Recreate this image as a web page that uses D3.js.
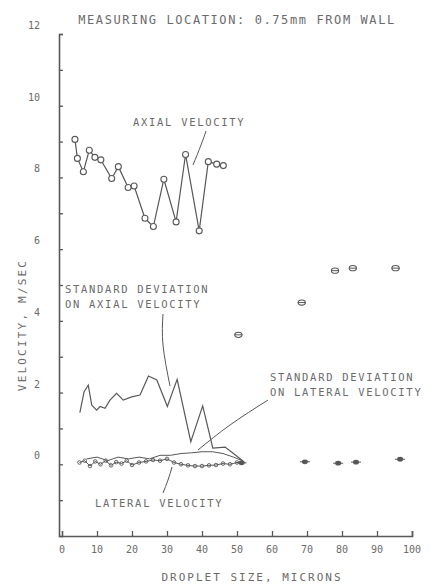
<!DOCTYPE html>
<html>
<head>
<meta charset="utf-8">
<script src="https://cdn.jsdelivr.net/npm/d3@7"></script>
<style>
  html, body { margin: 0; padding: 0; background: #fff; }
  svg { display: block; }
  text { font-family: "DejaVu Sans Mono", "Liberation Mono", monospace; fill: #6b6b6b; }
</style>
</head>
<body>
<svg id="chart" width="440" height="585"></svg>
<script>
// Droplet size (microns) and velocity (m/s) readings
const axialSize = [3.7, 4.4, 6.1, 7.8, 9.4, 11.1, 14.2, 16.1, 18.9, 20.6, 23.7, 26.1, 29.1, 32.6, 35.3, 39.2, 41.8, 44.2, 46.1];
const axialVel  = [9.06, 8.53, 8.16, 8.76, 8.56, 8.49, 7.97, 8.30, 7.72, 7.76, 6.86, 6.63, 7.95, 6.76, 8.64, 6.51, 8.44, 8.37, 8.33];

const sdAxialSize = [5.1, 6.3, 7.5, 8.5, 9.9, 10.9, 12.3, 13.7, 15.6, 17.5, 19.9, 22.3, 24.7, 27.1, 30.1, 32.9, 36.8, 40.2, 43.1, 46.6, 48.9, 51.7];
const sdAxialVel  = [1.44, 2.02, 2.21, 1.65, 1.51, 1.61, 1.56, 1.79, 1.98, 1.79, 1.88, 1.93, 2.46, 2.35, 1.61, 2.37, 0.63, 1.63, 0.45, 0.48, 0.31, 0.09];

const latSize = [5.0, 6.5, 8.0, 9.5, 11.0, 12.5, 14.0, 15.5, 17.0, 18.5, 20.0, 22.0, 24.0, 26.0, 28.0, 30.0, 32.0, 34.0, 36.0, 38.0, 40.0, 42.0, 44.0, 46.0, 48.0, 50.0, 51.5];
const latVel  = [0.05, 0.10, -0.05, 0.08, 0.00, 0.10, -0.03, 0.06, 0.02, 0.10, -0.02, 0.05, 0.08, 0.12, 0.10, 0.15, 0.05, 0.00, -0.03, -0.05, -0.05, -0.03, -0.02, 0.02, 0.00, 0.05, 0.05];

const sdLatSize = [7, 10, 13, 16, 19, 22, 25, 28, 31, 34, 37, 40, 43, 46, 49, 51.5];
const sdLatVel  = [0.15, 0.20, 0.10, 0.20, 0.15, 0.20, 0.15, 0.25, 0.25, 0.30, 0.32, 0.35, 0.35, 0.30, 0.20, 0.10];

// Isolated readings for the larger droplets
const bigSdSize = [50.4, 68.5, 78.0, 83.1, 95.3];
const bigSdVel  = [3.61, 4.51, 5.40, 5.47, 5.47];
const bigLatSize = [51.3, 69.4, 78.9, 84.0, 96.6];
const bigLatVel  = [0.04, 0.07, 0.03, 0.06, 0.14];

const xTicks = [0, 10, 20, 30, 40, 50, 60, 70, 80, 90, 100];
const yTickLabels = [0, 2, 4, 6, 8, 10, 12];

const ink = "#585858";
const svg = d3.select("#chart");

const x = d3.scaleLinear().domain([0, 100]).range([62, 412]);
const y = d3.scaleLinear().domain([-2, 12]).range([536, 34]);

// Axes: ticks point inward, labels drawn separately
const xAxis = d3.axisTop(x).tickValues(xTicks.slice(1)).tickSize(5).tickFormat("");
const gx = svg.append("g").attr("transform", `translate(0,${y(-2)})`).call(xAxis);
const yAxis = d3.axisRight(y).ticks(14).tickSize(4).tickFormat("");
const gy = svg.append("g").attr("transform", `translate(${x(0) - 3},0)`).call(yAxis);
[gx, gy].forEach(g => {
  g.select(".domain").attr("stroke", ink).attr("stroke-width", 1.6);
  g.selectAll(".tick line").attr("stroke", ink).attr("stroke-width", 1.3);
});

svg.append("g").selectAll("text").data(xTicks).join("text")
  .attr("x", d => x(d)).attr("y", 553)
  .attr("text-anchor", "middle").attr("font-size", 10)
  .text(d => d);

svg.append("g").selectAll("text").data(yTickLabels).join("text")
  .attr("x", 40).attr("y", d => y(d) - 5)
  .attr("text-anchor", "end").attr("font-size", 10)
  .text(d => d);

// Titles
svg.append("text").attr("x", 237).attr("y", 24).attr("text-anchor", "middle")
  .attr("font-size", 12).attr("letter-spacing", 1.6)
  .text("MEASURING LOCATION: 0.75mm FROM WALL");
svg.append("text").attr("x", 252).attr("y", 581).attr("text-anchor", "middle")
  .attr("font-size", 11).attr("letter-spacing", 2)
  .text("DROPLET SIZE, MICRONS");
svg.append("text").attr("transform", "translate(26,325) rotate(-90)").attr("text-anchor", "middle")
  .attr("font-size", 11).attr("letter-spacing", 2.2)
  .text("VELOCITY, M/SEC");

const line = d3.line().x(d => x(d[0])).y(d => y(d[1]));
const zip = (a, b) => a.map((v, i) => [v, b[i]]);

// Axial velocity: open circles joined by a line
const axial = zip(axialSize, axialVel);
svg.append("path").datum(axial).attr("d", line)
  .attr("fill", "none").attr("stroke", ink).attr("stroke-width", 1.2);
svg.append("g").selectAll("circle").data(axial).join("circle")
  .attr("cx", d => x(d[0])).attr("cy", d => y(d[1])).attr("r", 3)
  .attr("fill", "#fff").attr("stroke", ink).attr("stroke-width", 1.1);

// Standard deviation of axial velocity
svg.append("path").datum(zip(sdAxialSize, sdAxialVel)).attr("d", line)
  .attr("fill", "none").attr("stroke", ink).attr("stroke-width", 1.2);

// Standard deviation of lateral velocity
svg.append("path").datum(zip(sdLatSize, sdLatVel)).attr("d", line)
  .attr("fill", "none").attr("stroke", ink).attr("stroke-width", 1);

// Lateral velocity: small markers along the zero line
const lat = zip(latSize, latVel);
svg.append("path").datum(lat).attr("d", line)
  .attr("fill", "none").attr("stroke", ink).attr("stroke-width", 1);
svg.append("g").selectAll("circle").data(lat).join("circle")
  .attr("cx", d => x(d[0])).attr("cy", d => y(d[1])).attr("r", 1.8)
  .attr("fill", "none").attr("stroke", ink).attr("stroke-width", 0.9);

// Larger droplets: standard deviation markers (circle with bar)
const bigSd = svg.append("g").selectAll("g").data(zip(bigSdSize, bigSdVel)).join("g")
  .attr("transform", d => `translate(${x(d[0])},${y(d[1])})`);
bigSd.append("ellipse").attr("rx", 3.6).attr("ry", 2.6)
  .attr("fill", "#fff").attr("stroke", ink).attr("stroke-width", 1.1);
bigSd.append("line").attr("x1", -4).attr("x2", 4)
  .attr("stroke", ink).attr("stroke-width", 1);

// Larger droplets: lateral velocity markers (filled)
const bigLat = svg.append("g").selectAll("g").data(zip(bigLatSize, bigLatVel)).join("g")
  .attr("transform", d => `translate(${x(d[0])},${y(d[1])})`);
bigLat.append("ellipse").attr("rx", 3).attr("ry", 2.4).attr("fill", ink);
bigLat.append("line").attr("x1", -5).attr("x2", 5)
  .attr("stroke", ink).attr("stroke-width", 1);

// Series annotations with leader lines
const notes = [
  { lines: ["AXIAL VELOCITY"], x: 133, y: 126 },
  { lines: ["STANDARD DEVIATION", "ON AXIAL VELOCITY"], x: 65, y: 293 },
  { lines: ["STANDARD DEVIATION", "ON LATERAL VELOCITY"], x: 270, y: 381 },
  { lines: ["LATERAL VELOCITY"], x: 95, y: 507 }
];
notes.forEach(n => {
  n.lines.forEach((t, i) => {
    svg.append("text").attr("x", n.x).attr("y", n.y + i * 15)
      .attr("font-size", 10.5).attr("letter-spacing", 1.7).text(t);
  });
});

const leaders = [
  [[206, 131], [201, 145], [193, 165]],
  [[163, 314], [163, 345], [170, 386]],
  [[268, 400], [230, 425], [198, 450]],
  [[163, 493], [168, 480], [172, 467]]
];
const curve = d3.line().curve(d3.curveNatural);
leaders.forEach(p => {
  svg.append("path").attr("d", curve(p))
    .attr("fill", "none").attr("stroke", ink).attr("stroke-width", 1);
});
</script>
</body>
</html>
